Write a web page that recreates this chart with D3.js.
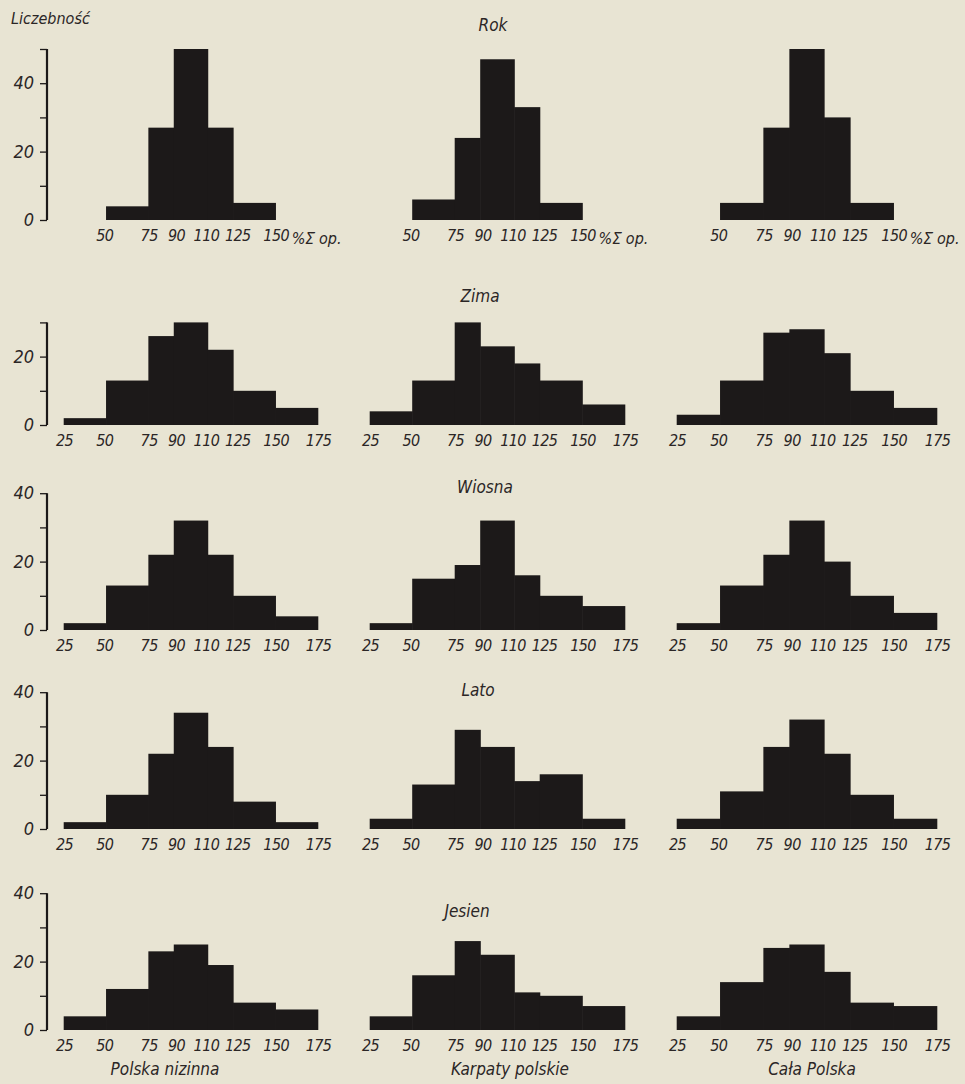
<!DOCTYPE html>
<html>
<head>
<meta charset="utf-8">
<script src="https://cdn.jsdelivr.net/npm/d3@7"></script>
<style>
  body { margin: 0; background: #e8e4d3; }
  svg { display: block; }
  text { font-family: "DejaVu Sans Condensed", "DejaVu Sans", sans-serif; font-style: italic; fill: #2b2626; }
</style>
</head>
<body>
<div id="chart"></div>
<script>
// class edges (% of mean total) and counts
var edgesRok = [50, 75, 90, 110, 125, 150];
var edgesSeason = [25, 50, 75, 90, 110, 125, 150, 175];

var regions = ["Polska nizinna", "Karpaty polskie", "Cała Polska"];
var seasons = ["Rok", "Zima", "Wiosna", "Lato", "Jesien"];

// one list per panel: Polska nizinna, Karpaty polskie, Cała Polska
var rok    = [[4, 27, 50, 27, 5], [6, 24, 47, 33, 5], [5, 27, 50, 30, 5]];
var zima   = [[2, 13, 26, 30, 22, 10, 5], [4, 13, 30, 23, 18, 13, 6], [3, 13, 27, 28, 21, 10, 5]];
var wiosna = [[2, 13, 22, 32, 22, 10, 4], [2, 15, 19, 32, 16, 10, 7], [2, 13, 22, 32, 20, 10, 5]];
var lato   = [[2, 10, 22, 34, 24, 8, 2], [3, 13, 29, 24, 14, 16, 3], [3, 11, 24, 32, 22, 10, 3]];
var jesien = [[4, 12, 23, 25, 19, 8, 6], [4, 16, 26, 22, 11, 10, 7], [4, 14, 24, 25, 17, 8, 7]];

var axisTop = [50, 30, 40, 40, 40];   // top of the Liczebność axis in each row
var yTicks = [0, 10, 20, 30, 40, 50];
var yLabels = [0, 20, 40];

var svgWidth = 965, svgHeight = 1084;
var rowBase = [220, 425, 630, 829, 1030];
var unit = 3.42;                      // px per one count
var colRange = [[64, 318], [370, 625], [677, 937]];
var axisX = 47;
var titleX = [493, 480, 485, 478, 467];
var titleY = [31, 302, 493, 696, 917];
// small nudges so the crowded labels don't run together (like the original lettering)
var labelNudge = {50: -2, 90: 2, 110: -2, 125: 4};

var ink = "#1c1919";

var svg = d3.select("#chart")
    .append("svg")
    .attr("width", svgWidth)
    .attr("height", svgHeight);

svg.append("rect").attr("width", svgWidth).attr("height", svgHeight).attr("fill", "#e8e4d3");

var rows = [rok, zima, wiosna, lato, jesien];

rows.forEach(function(rowData, r) {
    var edges = r == 0 ? edgesRok : edgesSeason;
    var yScale = d3.scaleLinear()
        .domain([0, 50])
        .range([rowBase[r], rowBase[r] - 50 * unit]);

    // Liczebność axis on the left column only
    var yAxis = d3.axisLeft(yScale)
        .tickValues(yTicks.filter(t => t <= axisTop[r]))
        .tickFormat(t => yLabels.indexOf(t) >= 0 ? t : "")
        .tickSize(7)
        .tickSizeOuter(0);

    var gy = svg.append("g")
        .attr("transform", `translate(${axisX},0)`)
        .call(yAxis);
    gy.select(".domain")
        .attr("d", `M0,${yScale(0)}V${yScale(axisTop[r])}`)
        .attr("stroke", ink).attr("stroke-width", 2.2);
    gy.selectAll(".tick line").attr("stroke", ink).attr("stroke-width", 1.3);
    gy.selectAll(".tick text")
        .attr("x", -13)
        .style("font-size", "18px")
        .attr("fill", "#2b2626");

    rowData.forEach(function(counts, c) {
        var xScale = d3.scaleLinear()
            .domain([25, 175])
            .range(colRange[c]);

        var bins = counts.map((v, i) => ({x0: edges[i], x1: edges[i + 1], n: v}));

        svg.append("g").selectAll("rect")
            .data(bins)
            .enter()
            .append("rect")
            .attr("x", d => xScale(d.x0) - 0.3)
            .attr("width", d => xScale(d.x1) - xScale(d.x0) + 0.6)
            .attr("y", d => yScale(d.n))
            .attr("height", d => yScale(0) - yScale(d.n))
            .attr("fill", ink);

        var xAxis = d3.axisBottom(xScale)
            .tickValues(edges)
            .tickSize(0)
            .tickPadding(0);

        var gx = svg.append("g")
            .attr("transform", `translate(0,${rowBase[r] + 6})`)
            .call(xAxis);
        gx.select(".domain").remove();
        gx.selectAll(".tick text")
            .attr("dy", "0.95em")
            .attr("dx", d => labelNudge[d] || 0)
            .style("font-size", "16px")
            .style("letter-spacing", "-0.6px")
            .attr("fill", "#2b2626");

        if (r == 0) {
            svg.append("text")
                .attr("x", xScale(150) + 16)
                .attr("y", rowBase[r] + 24)
                .style("font-size", "16px")
                .text("%\u03A3\u0304 op.");
        }
    });

    svg.append("text")
        .attr("x", titleX[r])
        .attr("y", titleY[r])
        .attr("text-anchor", "middle")
        .style("font-size", "17px")
        .text(seasons[r]);
});

svg.append("text")
    .attr("x", 11)
    .attr("y", 24)
    .style("font-size", "16px")
    .text("Liczebność");

var regionX = [165, 510, 812];
regions.forEach(function(name, c) {
    svg.append("text")
        .attr("x", regionX[c])
        .attr("y", 1075)
        .attr("text-anchor", "middle")
        .style("font-size", "17px")
        .text(name);
});
</script>
</body>
</html>
